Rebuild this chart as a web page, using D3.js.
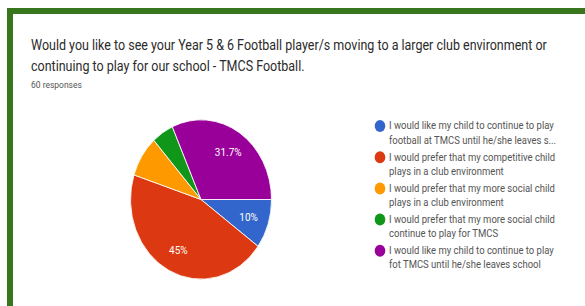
<!DOCTYPE html>
<html>
<head>
<meta charset="utf-8">
<script src="https://cdn.jsdelivr.net/npm/d3@7"></script>
<style>
  html, body { margin: 0; padding: 0; background: #fff; }
  svg { display: block; }
  text { font-family: Roboto, Arial, sans-serif; }
</style>
</head>
<body>
<script>
// data (60 responses)
const categories = [
  'I would like my child to continue to play football at TMCS until he/she leaves s...',
  'I would prefer that my competitive child plays in a club environment',
  'I would prefer that my more social child plays in a club environment',
  'I would prefer that my more social child continue to play for TMCS',
  'I would like my child to continue to play fot TMCS until he/she leaves school'
]
const legendLines = [
  ['I would like my child to continue to play', 'football at TMCS until he/she leaves s...'],
  ['I would prefer that my competitive child', 'plays in a club environment'],
  ['I would prefer that my more social child', 'plays in a club environment'],
  ['I would prefer that my more social child', 'continue to play for TMCS'],
  ['I would like my child to continue to play', 'fot TMCS until he/she leaves school']
]
const counts = [6, 27, 5, 3, 19]
const colors = ['#3366cc', '#dc3912', '#ff9900', '#109618', '#990099']
const titleLines = [
  'Would you like to see your Year 5 & 6 Football player/s moving to a larger club environment or',
  'continuing to play for our school - TMCS Football.'
]
const subtitle = '60 responses'

const width = 585
const height = 306
const sy = 1.13 // the screenshot is stretched vertically

const svg = d3.select('body').append('svg')
  .attr('width', width)
  .attr('height', height)

// green frame
svg.append('rect').attr('x', 7).attr('y', 8).attr('width', width - 7).attr('height', 6).attr('fill', '#38761d')
svg.append('rect').attr('x', 7).attr('y', 8).attr('width', 6).attr('height', height - 8).attr('fill', '#38761d')

// title
titleLines.forEach((line, i) => {
  svg.append('text')
    .attr('transform', `translate(31,${49.5 + i * 21.5}) scale(1,${sy})`)
    .attr('fill', '#2b2b2b')
    .style('font-size', '12.5px')
    .text(line)
})

svg.append('text')
  .attr('transform', `translate(31,88.3) scale(1,${sy})`)
  .attr('fill', '#555')
  .style('font-size', '8.5px')
  .text(subtitle)

// pie
const total = d3.sum(counts)
const radius = 70.5
const pie = d3.pie().sort(null)
  .startAngle(Math.PI / 2)
  .endAngle(Math.PI / 2 + 2 * Math.PI)
const arc = d3.arc().innerRadius(0).outerRadius(radius)
const labelArc = d3.arc().innerRadius(50).outerRadius(50)
const pct = d3.format('.1~f')

const pieG = svg.append('g').attr('transform', `translate(201,199.5) scale(1,${sy})`)
const slices = pie(counts)

pieG.selectAll('path')
  .data(slices)
  .enter()
  .append('path')
  .attr('d', arc)
  .attr('fill', (d, i) => colors[i])
  .attr('stroke', '#fff')
  .attr('stroke-width', 0.8)

const labelG = svg.append('g').attr('transform', 'translate(201,199.5)')
labelG.selectAll('text')
  .data(slices.filter(d => d.data / total >= 0.1))
  .enter()
  .append('text')
  .attr('transform', d => {
    const c = labelArc.centroid(d)
    return `translate(${c[0]},${c[1] * sy + 3.8}) scale(1,${sy})`
  })
  .attr('text-anchor', 'middle')
  .attr('fill', '#fff')
  .style('font-size', '10px')
  .text(d => pct(d.data / total * 100) + '%')

// legend
const legend = svg.append('g')
const items = legend.selectAll('g')
  .data(categories)
  .enter()
  .append('g')
  .attr('transform', (d, i) => `translate(0,${126 + i * 31.2})`)

items.append('ellipse')
  .attr('cx', 380)
  .attr('cy', 0)
  .attr('rx', 5.3)
  .attr('ry', 5.3 * sy)
  .attr('fill', (d, i) => colors[i])

items.each(function (d, i) {
  legendLines[i].forEach((line, j) => {
    d3.select(this).append('text')
      .attr('transform', `translate(389,${3.3 + j * 14.3}) scale(1,${sy})`)
      .attr('fill', '#555')
      .style('font-size', '9.5px')
      .text(line)
  })
})
</script>
</body>
</html>
